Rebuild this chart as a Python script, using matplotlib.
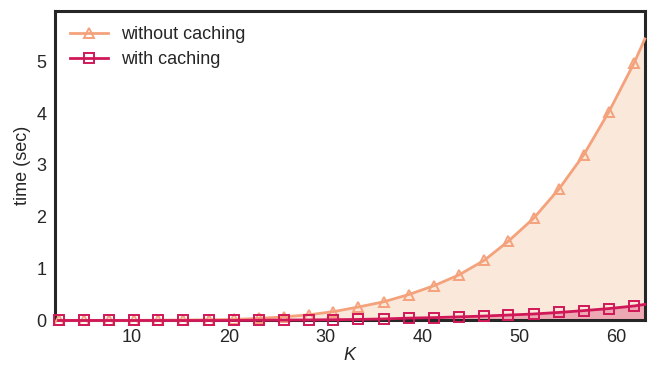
import numpy as np
import matplotlib
matplotlib.use("Agg")
import matplotlib.pyplot as plt

# K values at the markers, plus the right edge point
K = [2.4, 5.0, 7.6, 10.2, 12.7, 15.3, 17.9, 20.5, 23.1, 25.7, 28.3, 30.8,
     33.4, 36.0, 38.6, 41.2, 43.8, 46.4, 48.9, 51.5, 54.1, 56.7, 59.3, 61.9, 63.0]
no_cache = [0.0, 0.0, 0.0, 0.0, 0.005, 0.008, 0.012, 0.02, 0.04, 0.07, 0.11, 0.17,
            0.26, 0.36, 0.50, 0.67, 0.88, 1.16, 1.53, 1.97, 2.53, 3.20, 4.03, 4.97, 5.43]
cache = [0.0, 0.0, 0.0, 0.0, 0.0, 0.0, 0.0, 0.0, 0.005, 0.008, 0.01, 0.015,
         0.02, 0.03, 0.045, 0.055, 0.07, 0.085, 0.105, 0.125, 0.155, 0.19, 0.23, 0.28, 0.31]
xticks = [10, 20, 30, 40, 50, 60]
yticks = [0, 1, 2, 3, 4, 5]

ORANGE = "#f4a27c"
ORANGE_FILL = "#eea672"
RED = "#d01858"

plt.rcParams["font.family"] = ["Liberation Sans", "DejaVu Sans"]
plt.rcParams["font.size"] = 13

fig = plt.figure(figsize=(6.54, 3.65), dpi=100)
ax = fig.add_axes([0.0836, 0.122, 0.9024, 0.848])

ax.fill_between(K, no_cache, color=ORANGE_FILL, alpha=0.25, lw=0)
ax.fill_between(K, cache, color=RED, alpha=0.3, lw=0)
ax.plot(K, no_cache, color=ORANGE, lw=2.0, marker="^", ms=7, mfc="none", mew=1.4,
        markevery=slice(0, 24), label="without caching", clip_on=False, zorder=4)
ax.plot(K, cache, color=RED, lw=2.0, marker="s", ms=6.5, mfc="none", mew=1.4,
        markevery=slice(0, 24), label="with caching", clip_on=False, zorder=4)

ax.set_xlim(2, 63)
ax.set_ylim(0, 5.97)
ax.set_xticks(xticks)
ax.set_yticks(yticks)
ax.tick_params(length=0, pad=6, labelsize=13, colors="#262626")
for s in ax.spines.values():
    s.set_linewidth(2.2)
    s.set_color("#262626")

ax.set_xlabel("K", style="italic", color="#262626", labelpad=1)
ax.set_ylabel("time (sec)", color="#262626", labelpad=4)

leg = ax.legend(loc="upper left", frameon=False, fontsize=13, handlelength=2.1,
                handletextpad=0.7, borderaxespad=0.45, labelspacing=0.45)
for t in leg.get_texts():
    t.set_color("#262626")

fig.savefig("out.png", dpi=100)
